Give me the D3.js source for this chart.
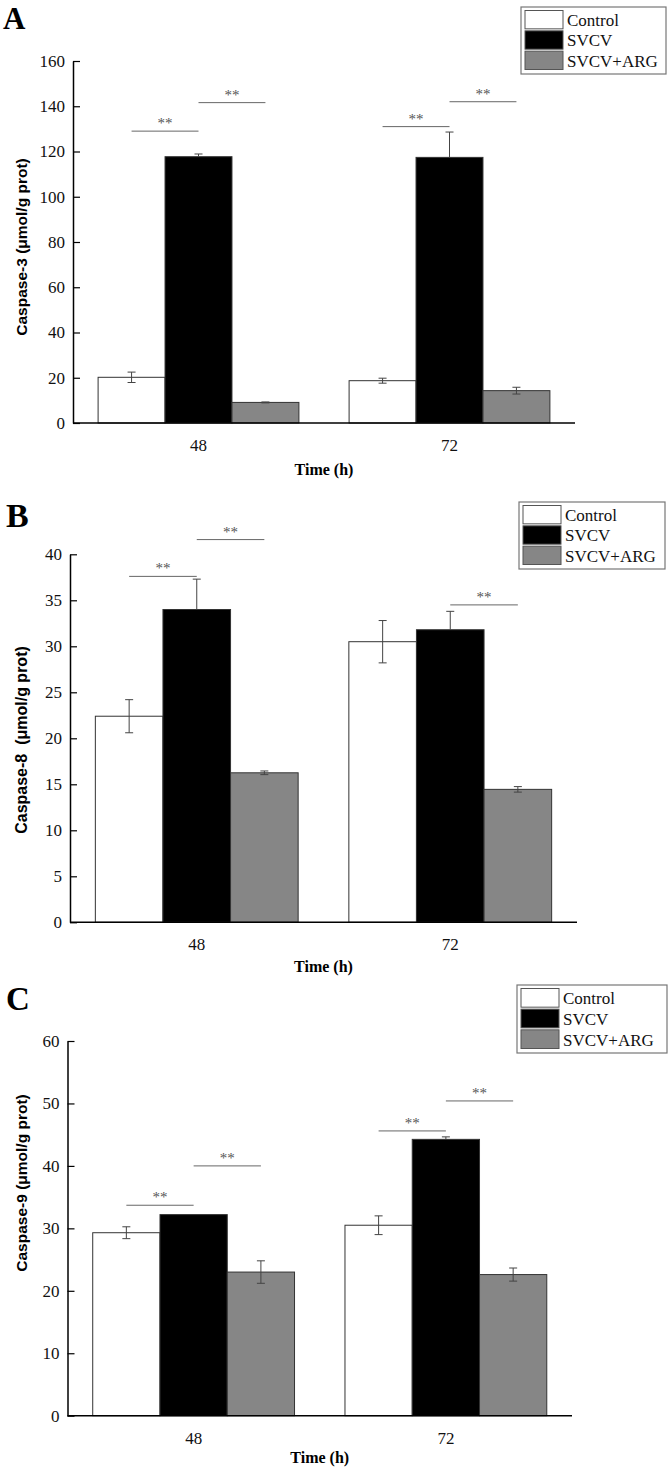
<!DOCTYPE html>
<html>
<head>
<meta charset="utf-8">
<script src="https://cdn.jsdelivr.net/npm/d3@7"></script>
<style>
  html, body { margin: 0; padding: 0; background: #fff; }
  svg { display: block; }
  .serif { font-family: "Liberation Serif", "Times New Roman", serif; }
  .sans { font-family: "Liberation Sans", Arial, sans-serif; }
</style>
</head>
<body>
<svg id="chart" width="669" height="1470"></svg>
<script>
// ---------- data ----------
const timeLabels = ["48", "72"];
const groupNames = ["Control", "SVCV", "SVCV+ARG"];
const groupFills = ["#ffffff", "#000000", "#868686"];

// [time][group]
const casp3Mean = [[20.2, 117.7, 9.1], [18.7, 117.4, 14.3]];
const casp3Err  = [[2.3, 1.2, 0.2], [1.1, 11.2, 1.5]];
const casp3Ticks = [0, 20, 40, 60, 80, 100, 120, 140, 160];
// [time index, from group, to group, y value]
const casp3Sig = [[0, 0, 1, 129], [0, 1, 2, 141.6], [1, 0, 1, 131], [1, 1, 2, 142]];

const casp8Mean = [[22.4, 34.0, 16.25], [30.5, 31.8, 14.45]];
const casp8Err  = [[1.8, 3.3, 0.2], [2.3, 2.0, 0.3]];
const casp8Ticks = [0, 5, 10, 15, 20, 25, 30, 35, 40];
const casp8Sig = [[0, 0, 1, 37.6], [0, 1, 2, 41.6], [1, 1, 2, 34.5]];

const casp9Mean = [[29.3, 32.2, 23.0], [30.5, 44.25, 22.6]];
const casp9Err  = [[0.95, 0, 1.8], [1.5, 0.4, 1.05]];
const casp9Ticks = [0, 10, 20, 30, 40, 50, 60];
const casp9Sig = [[0, 0, 1, 33.7], [0, 1, 2, 40.0], [1, 0, 1, 45.6], [1, 1, 2, 50.4]];

// ---------- drawing ----------
const svg = d3.select("#chart");
const SERIF = "'Liberation Serif', 'Times New Roman', serif";
const SANS = "'Liberation Sans', Arial, sans-serif";

function drawPanel(cfg) {
  const g = svg.append("g");
  const y = d3.scaleLinear()
    .domain([0, d3.max(cfg.ticks)])
    .range([cfg.y0, cfg.yTop]);
  const x = d3.scaleBand()
    .domain(timeLabels)
    .range([cfg.xLeft, cfg.xRight])
    .paddingInner(0.2)
    .paddingOuter(0.1);
  const sub = d3.scaleBand()
    .domain(groupNames)
    .range([0, x.bandwidth()])
    .padding(0);

  // panel letter
  g.append("text")
    .attr("x", cfg.letterX).attr("y", cfg.letterY)
    .style("font-family", SERIF).style("font-weight", "bold")
    .style("font-size", cfg.letterSize + "px")
    .text(cfg.letter);

  // bars
  const rows = [];
  timeLabels.forEach((t, i) => groupNames.forEach((n, j) => {
    rows.push({ t, n, i, j, v: cfg.mean[i][j], e: cfg.err[i][j] });
  }));

  g.selectAll("rect.bar").data(rows).enter().append("rect")
    .attr("class", "bar")
    .attr("x", d => x(d.t) + sub(d.n))
    .attr("width", sub.bandwidth())
    .attr("y", d => y(d.v))
    .attr("height", d => y(0) - y(d.v))
    .attr("fill", d => groupFills[d.j])
    .attr("stroke", "#333")
    .attr("stroke-width", 1);

  // error bars (on black bars only the upper half shows)
  const eb = g.selectAll("g.err").data(rows.filter(d => d.e > 0)).enter().append("g")
    .attr("class", "err")
    .attr("stroke", "#444").attr("stroke-width", 1);
  const cx = d => x(d.t) + sub(d.n) + sub.bandwidth() / 2;
  eb.append("line")
    .attr("x1", cx).attr("x2", cx)
    .attr("y1", d => y(d.v + d.e))
    .attr("y2", d => d.j === 1 ? y(d.v) : y(d.v - d.e));
  eb.append("line")
    .attr("x1", d => cx(d) - 4).attr("x2", d => cx(d) + 4)
    .attr("y1", d => y(d.v + d.e)).attr("y2", d => y(d.v + d.e));
  eb.filter(d => d.j !== 1).append("line")
    .attr("x1", d => cx(d) - 4).attr("x2", d => cx(d) + 4)
    .attr("y1", d => y(d.v - d.e)).attr("y2", d => y(d.v - d.e));

  // significance marks
  const sig = g.selectAll("g.sig").data(cfg.sig).enter().append("g").attr("class", "sig");
  const sx = (i, j) => x(timeLabels[i]) + sub(groupNames[j]) + sub.bandwidth() / 2;
  sig.append("line")
    .attr("x1", d => sx(d[0], d[1])).attr("x2", d => sx(d[0], d[2]))
    .attr("y1", d => y(d[3])).attr("y2", d => y(d[3]))
    .attr("stroke", "#666").attr("stroke-width", 1);
  sig.append("text")
    .attr("x", d => (sx(d[0], d[1]) + sx(d[0], d[2])) / 2)
    .attr("y", d => y(d[3]) - 3)
    .attr("text-anchor", "middle")
    .style("font-family", SERIF).style("font-size", "15px")
    .attr("fill", "#555")
    .text("**");

  // y axis
  const yAxis = d3.axisLeft(y)
    .tickValues(cfg.ticks)
    .tickSizeInner(-7)
    .tickSizeOuter(0)
    .tickPadding(8)
    .tickFormat(d3.format("d"));
  const ya = g.append("g")
    .attr("transform", `translate(${cfg.xLeft},0)`)
    .call(yAxis);
  ya.attr("font-family", null).attr("font-size", null);
  ya.select(".domain").attr("stroke", "#000").attr("stroke-width", 1.5);
  ya.selectAll(".tick line").attr("stroke", "#000").attr("stroke-width", 1.2);
  ya.selectAll(".tick text")
    .style("font-family", SERIF).style("font-size", "17px").attr("fill", "#111");

  // x axis (line + labels)
  const xa = d3.axisBottom(x).tickSize(0).tickPadding(16);
  const xg = g.append("g")
    .attr("transform", `translate(0,${cfg.y0})`)
    .call(xa);
  xg.attr("font-family", null).attr("font-size", null);
  xg.select(".domain").remove();
  xg.selectAll(".tick text")
    .style("font-family", SERIF).style("font-size", "17px").attr("fill", "#111");
  g.append("line")
    .attr("x1", cfg.xLeft).attr("x2", cfg.xRight)
    .attr("y1", cfg.y0).attr("y2", cfg.y0)
    .attr("stroke", "#000").attr("stroke-width", 1.5);

  // x title
  g.append("text")
    .attr("x", (cfg.xLeft + cfg.xRight) / 2)
    .attr("y", cfg.y0 + cfg.xTitleOffset)
    .attr("text-anchor", "middle")
    .style("font-family", SERIF).style("font-weight", "bold").style("font-size", "16px")
    .text("Time (h)");

  // y title
  g.append("text")
    .attr("transform", `translate(${cfg.yTitleX},${cfg.yTitleY}) rotate(-90)`)
    .attr("text-anchor", "middle")
    .style("font-family", SANS).style("font-weight", "bold")
    .style("font-size", cfg.yTitleSize + "px")
    .style("white-space", "pre")
    .text(cfg.yTitle);

  // legend
  const L = cfg.legend;
  g.append("rect")
    .attr("x", L.x).attr("y", L.y).attr("width", L.w).attr("height", L.h)
    .attr("fill", "#fff").attr("stroke", "#777").attr("stroke-width", 1.2);
  const rowH = (L.h - 6) / groupNames.length;
  const li = g.selectAll("g.leg").data(groupNames).enter().append("g")
    .attr("class", "leg")
    .attr("transform", (d, k) => `translate(${L.x + 4},${L.y + 3 + k * rowH})`);
  li.append("rect")
    .attr("x", 0).attr("y", 0.5).attr("width", 38).attr("height", rowH - 2)
    .attr("fill", (d, k) => groupFills[k])
    .attr("stroke", "#555").attr("stroke-width", 1);
  li.append("text")
    .attr("x", 42).attr("y", rowH / 2 + 6)
    .style("font-family", SERIF).style("font-size", "17px").attr("fill", "#111")
    .text(d => d);
}

drawPanel({
  letter: "A", letterX: 3, letterY: 29, letterSize: 31,
  mean: casp3Mean, err: casp3Err, ticks: casp3Ticks, sig: casp3Sig,
  xLeft: 73, xRight: 575, y0: 423, yTop: 61, xTitleOffset: 52,
  yTitle: "Caspase-3 (\u03bcmol/g prot)", yTitleX: 27, yTitleY: 247, yTitleSize: 15.5,
  legend: { x: 521, y: 7, w: 145, h: 67 }
});

drawPanel({
  letter: "B", letterX: 6, letterY: 527, letterSize: 34,
  mean: casp8Mean, err: casp8Err, ticks: casp8Ticks, sig: casp8Sig,
  xLeft: 70, xRight: 577, y0: 922.3, yTop: 554.3, xTitleOffset: 50,
  yTitle: "Caspase-8  (\u03bcmol/g prot)", yTitleX: 27, yTitleY: 740, yTitleSize: 16,
  legend: { x: 519, y: 502, w: 146, h: 67 }
});

drawPanel({
  letter: "C", letterX: 6, letterY: 1010, letterSize: 33,
  mean: casp9Mean, err: casp9Err, ticks: casp9Ticks, sig: casp9Sig,
  xLeft: 67.5, xRight: 572, y0: 1415.7, yTop: 1041, xTitleOffset: 47,
  yTitle: "Caspase-9 (\u03bcmol/g prot)", yTitleX: 27, yTitleY: 1183, yTitleSize: 15.5,
  legend: { x: 517, y: 985, w: 150, h: 68 }
});
</script>
</body>
</html>
